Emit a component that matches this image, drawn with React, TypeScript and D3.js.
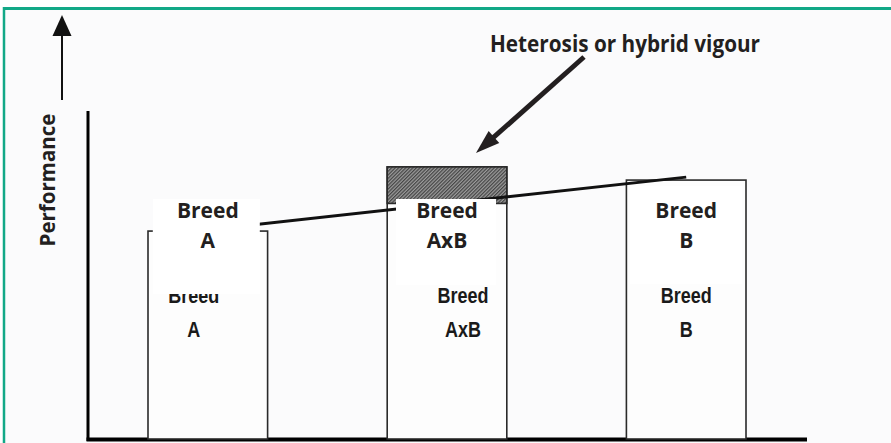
import { useEffect, useRef } from "react";
import * as d3 from "d3";

// chart values
const breeds = ["A", "AxB", "B"];
const performance = [63.2, 82.7, 78.7];
const parentLine = [63.6, 79.6]; // line drawn from Breed A to Breed B
const titleText = "Heterosis or hybrid vigour";
const yLabel = "Performance";

const W = 891;
const H = 443;
// older labels sit a bit off centre in the source drawing
const oldLabelShift = [-14, 16, 0];

const App = () => {
	const svgRef = useRef<SVGSVGElement>(null);

	useEffect(() => {
		const svg = d3.select(svgRef.current).attr("width", W).attr("height", H);
		svg.selectAll("*").remove();

		const x = d3.scaleBand().domain(breeds).range([148, 746]).paddingInner(0.5).paddingOuter(0);
		const y = d3.scaleLinear().domain([0, 100]).range([439, 110]);
		const cx = (b: string) => (x(b) as number) + x.bandwidth() / 2;

		const defs = svg.append("defs");
		const pat = defs
			.append("pattern")
			.attr("id", "hatch")
			.attr("width", 2.5)
			.attr("height", 2.5)
			.attr("patternUnits", "userSpaceOnUse")
			.attr("patternTransform", "rotate(45)");
		pat.append("rect").attr("width", 2.5).attr("height", 2.5).attr("fill", "#9c9c9c");
		pat.append("line").attr("x1", 0.6).attr("y1", 0).attr("x2", 0.6).attr("y2", 2.5)
			.attr("stroke", "#464646").attr("stroke-width", 1.3);

		// background + teal frame
		svg.append("rect").attr("width", W).attr("height", H).attr("fill", "#ffffff");
		svg.append("rect").attr("x", 5).attr("y", 10).attr("width", W).attr("height", H).attr("fill", "#fbfbfc");
		svg.append("line").attr("x1", 3).attr("x2", W).attr("y1", 8.5).attr("y2", 8.5)
			.attr("stroke", "#12a887").attr("stroke-width", 3);
		svg.append("line").attr("x1", 4).attr("x2", 4).attr("y1", 7).attr("y2", H)
			.attr("stroke", "#12a887").attr("stroke-width", 2.5);

		// performance arrow
		svg.append("line").attr("x1", 62).attr("x2", 62).attr("y1", 100).attr("y2", 30)
			.attr("stroke", "#111").attr("stroke-width", 2);
		svg.append("path").attr("d", "M62,15 L71.5,36 L52.5,36 Z").attr("fill", "#111");

		svg.append("text")
			.attr("transform", "translate(55,180) rotate(-90)")
			.attr("text-anchor", "middle")
			.attr("font-family", "Open Sans")
			.attr("font-weight", 700)
			.attr("font-size", 20.5)
			.attr("fill", "#231f20")
			.text(yLabel);

		// axes
		svg.append("line").attr("x1", 88).attr("x2", 88).attr("y1", y(100) + 1).attr("y2", y(0) + 2)
			.attr("stroke", "#000").attr("stroke-width", 3);
		svg.append("line").attr("x1", 86.5).attr("x2", 807).attr("y1", y(0) + 0.5).attr("y2", y(0) + 0.5)
			.attr("stroke", "#000").attr("stroke-width", 4);

		// bars
		svg.selectAll("rect.bar")
			.data(breeds)
			.join("rect")
			.attr("class", "bar")
			.attr("x", (d) => x(d) as number)
			.attr("y", (d, i) => y(performance[i]))
			.attr("width", x.bandwidth())
			.attr("height", (d, i) => y(0) - y(performance[i]))
			.attr("fill", "#fdfdfd")
			.attr("stroke", "#2a2a2a")
			.attr("stroke-width", 1.6);

		// heterosis block: cross above the mid-parent value
		const midParent = d3.mean(parentLine) as number;
		svg.append("rect")
			.attr("x", x("AxB") as number)
			.attr("y", y(performance[1]))
			.attr("width", x.bandwidth())
			.attr("height", y(midParent) - y(performance[1]))
			.attr("fill", "url(#hatch)")
			.attr("stroke", "#2a2a2a")
			.attr("stroke-width", 1.6);

		// parent line
		svg.append("path")
			.datum([
				[cx("A"), y(parentLine[0])],
				[cx("B"), y(parentLine[1])],
			] as [number, number][])
			.attr("d", d3.line())
			.attr("stroke", "#111")
			.attr("stroke-width", 3)
			.attr("fill", "none");

		// older labels (Arial style, tall and narrow)
		breeds.forEach((b, i) => {
			const g = svg.append("g")
				.attr("transform", `translate(${cx(b) + oldLabelShift[i]},0) scale(0.8,1)`)
				.attr("font-family", "Liberation Sans")
				.attr("font-weight", 700)
				.attr("font-size", 22.5)
				.attr("fill", "#1a1a1a")
				.attr("text-anchor", "middle");
			g.append("text").attr("x", 0).attr("y", 303).text("Breed");
			g.append("text").attr("x", 0).attr("y", 337).text(b);
		});

		// white boxes behind the newer labels
		const boxes = [
			{x0: -55, x1: 52, y0: 199, y1: 294},
			{x0: -51, x1: 49, y0: 199, y1: 285},
			{x0: -56, x1: 56, y0: 186, y1: 284},
		];
		breeds.forEach((b, i) => {
			svg.append("rect")
				.attr("x", cx(b) + boxes[i].x0)
				.attr("y", boxes[i].y0)
				.attr("width", boxes[i].x1 - boxes[i].x0)
				.attr("height", boxes[i].y1 - boxes[i].y0)
				.attr("fill", "#ffffff");
		});

		const lab = svg.append("g")
			.attr("font-family", "Open Sans")
			.attr("font-weight", 700)
			.attr("font-size", 21)
			.attr("fill", "#231f20")
			.attr("text-anchor", "middle");
		breeds.forEach((b) => {
			const t = lab.append("text").attr("x", cx(b)).attr("y", 218);
			t.append("tspan").attr("x", cx(b)).text("Breed");
			t.append("tspan").attr("x", cx(b)).attr("dy", 30).text(b);
		});

		// title and pointer arrow
		svg.append("text")
			.attr("x", 490)
			.attr("y", 52)
			.attr("font-family", "Open Sans")
			.attr("font-weight", 700)
			.attr("font-size", 23)
			.attr("textLength", 270)
			.attr("lengthAdjust", "spacingAndGlyphs")
			.attr("fill", "#231f20")
			.text(titleText);

		const start = [584, 57];
		const tip = [476, 153];
		const dx = tip[0] - start[0];
		const dy = tip[1] - start[1];
		const len = Math.hypot(dx, dy);
		const ux = dx / len, uy = dy / len;
		const bx = tip[0] - 24 * ux, by = tip[1] - 24 * uy;
		svg.append("line")
			.attr("x1", start[0]).attr("y1", start[1])
			.attr("x2", bx + 4 * ux).attr("y2", by + 4 * uy)
			.attr("stroke", "#231f20").attr("stroke-width", 5);
		svg.append("path")
			.attr("d", `M${tip[0]},${tip[1]} L${bx - 8 * uy},${by + 8 * ux} L${bx + 8 * uy},${by - 8 * ux} Z`)
			.attr("fill", "#231f20");
	}, []);

	return (
		<div style={{position: "absolute", left: 0, top: 0}}>
			<svg ref={svgRef} style={{display: "block"}}></svg>
		</div>
	);
};

export default App;
